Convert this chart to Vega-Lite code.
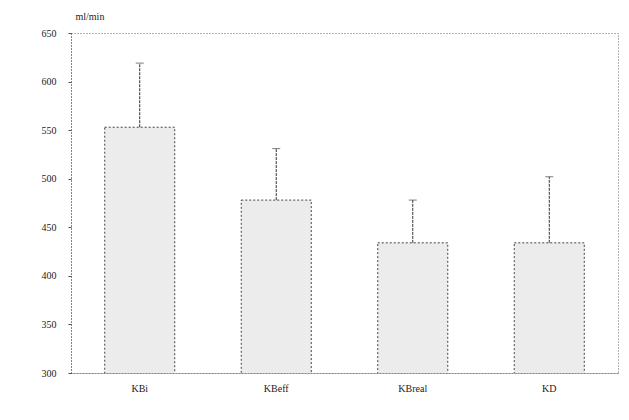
{
  "$schema": "https://vega.github.io/schema/vega-lite/v6.json",
  "autosize": "none",
  "width": 547,
  "height": 340,
  "padding": {"left": 71, "top": 33, "right": 11, "bottom": 47},
  "background": "white",
  "config": {
    "view": {"stroke": "#666", "strokeDash": [1, 2], "strokeWidth": 1},
    "font": "Liberation Serif"
  },
  "data": {
    "values": [
      {"group": "KBi", "mean": 553, "upper": 619},
      {"group": "KBeff", "mean": 478, "upper": 531},
      {"group": "KBreal", "mean": 434, "upper": 478},
      {"group": "KD", "mean": 434, "upper": 502}
    ]
  },
  "layer": [
    {
      "mark": {"type": "bar", "clip": true, "fill": "#ececec", "stroke": "#444", "strokeDash": [2, 2], "strokeWidth": 1},
      "encoding": {
        "x": {
          "field": "group",
          "type": "nominal",
          "sort": null,
          "scale": {"paddingInner": 0.487, "paddingOuter": 0.247},
          "axis": {
            "title": null,
            "labelAngle": 0,
            "ticks": false,
            "labelPadding": 10,
            "labelFontSize": 10,
            "labelColor": "#222",
            "domainColor": "#555",
            "domainDash": [1, 2],
            "encode": {"labels": {"update": {"dx": {"signal": "-20*indexof(['KBi','KBeff','KBreal','KD'], datum.value)"}}}}
          }
        },
        "y": {
          "field": "mean",
          "type": "quantitative",
          "scale": {"domain": [300, 650], "nice": false, "zero": false},
          "axis": {
            "title": "ml/min",
            "titleAngle": 0,
            "titleAlign": "left",
            "titleAnchor": "end",
            "titleX": 4,
            "titleY": -12,
            "titleFontSize": 10,
            "titleFontWeight": "normal",
            "titleColor": "#222",
            "values": [300, 350, 400, 450, 500, 550, 600, 650],
            "labelFontSize": 10,
            "labelColor": "#222",
            "labelPadding": 12,
            "tickSize": 3,
            "tickColor": "#555",
            "domainColor": "#555",
            "domainDash": [1, 2],
            "grid": false
          }
        }
      }
    },
    {
      "mark": {"type": "rule", "stroke": "#333", "strokeDash": [3, 1], "strokeWidth": 1},
      "encoding": {
        "x": {"field": "group", "type": "nominal", "sort": null},
        "y": {"field": "mean", "type": "quantitative"},
        "y2": {"field": "upper"}
      }
    },
    {
      "mark": {"type": "tick", "orient": "horizontal", "size": 8, "thickness": 1, "color": "#444"},
      "encoding": {
        "x": {"field": "group", "type": "nominal", "sort": null},
        "y": {"field": "upper", "type": "quantitative"}
      }
    }
  ]
}
